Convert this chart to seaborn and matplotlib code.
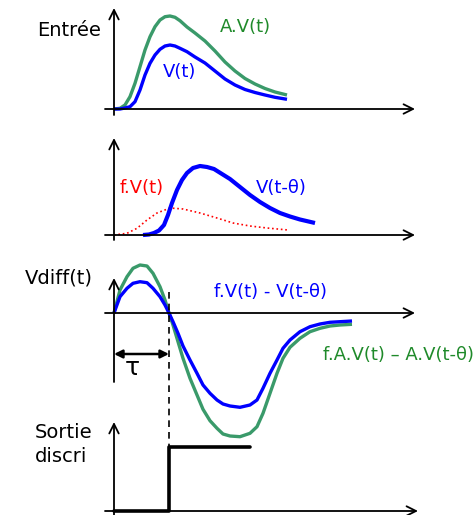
import matplotlib
matplotlib.use("Agg")
import matplotlib.pyplot as plt
import seaborn as sns

# ---------------- data ----------------
# Panel 1 : Entrée
t_in = [0, 6, 11, 16, 21, 26, 31, 36, 41, 46, 51, 56, 61, 66, 73, 81, 91, 101, 111, 121, 131, 141, 151, 161, 173]
v_in = [0, 0, 1, 2.3, 7.3, 19, 34, 45.7, 54, 59.7, 63, 64, 63, 60.7, 57.3, 52, 46, 38, 30, 24, 19.5, 16.5, 14, 11.7, 9.7]
av_in = [0, 0.7, 4, 12.3, 25.7, 42.3, 59, 72.3, 82.3, 89, 92.3, 93, 91.7, 88.3, 82, 76, 68, 58, 47, 38, 30.5, 25,
         20.5, 17, 14]

# Panel 2 : delayed and attenuated
t_del = [29, 35, 40, 45, 50, 54, 58, 63, 68, 73, 79, 86, 93, 100, 108, 116, 126, 136, 146, 156, 166, 176, 186, 201]
v_del = [0, 0.5, 2, 4.5, 10, 20, 32, 45, 55, 62, 67, 69, 68, 66, 61, 56, 48, 40, 33, 27, 22, 18.5, 15.5, 12]
t_att = [0, 13, 23, 33, 43, 56, 69, 86, 103, 119, 136, 153, 174]
v_att = [0, 1.7, 6.7, 15, 22, 27, 26, 22, 17, 12, 9, 7, 5]

# Panel 3 : Vdiff
t_diff = [0, 6, 13, 19, 26, 33, 39, 46, 51, 55, 59, 64, 69, 76, 83, 89, 96, 103, 109, 116, 126, 136, 143, 149,
          156, 163, 169, 176, 186, 196, 206, 216, 226, 238]
v_diff = [0, 16.3, 24.7, 29.7, 31.3, 30.3, 24.7, 16.3, 8, 0, -8.7, -20.3, -33, -47, -60.3, -72, -80.3, -87, -91,
          -93, -94.3, -92, -87, -75.3, -60.3, -47, -35.3, -27, -18.7, -13.7, -11, -9.3, -8.7, -8]
av_diff = [0, 23, 36.3, 44.7, 48, 47, 39.7, 26.3, 13, 0, -12, -28.7, -45.3, -65.3, -82, -96.3, -107.7, -115.3,
           -121, -123, -123.7, -120.3, -113.7, -100.3, -80.3, -60.3, -45.3, -34.3, -25.3, -18.7, -15.3, -13, -12,
           -11.3]
tau = 55

# Panel 4 : Sortie discri
t_out = [0, 55, 136]
v_out = [0, 64, 64]

# ---------------- style ----------------
sns.set_theme(style="white")
plt.rcParams['font.family'] = ['DejaVu Sans']

GREEN = "#3a9a6a"
GREEN_TXT = "#1f8a2a"
BLUE = "#0000ff"
RED = "#ff0000"
LINE_KW = dict(solid_joinstyle="round", solid_capstyle="butt", sort=False)

W, H = 475, 515
fig = plt.figure(figsize=(W / 100, H / 100), dpi=100)
fig.patch.set_facecolor("white")

X0 = 114  # pixel x of the vertical axes


def panel(yb):
    ax = fig.add_axes([0, 0, 1, 1])
    ax.set_xlim(-X0, W - X0)
    ax.set_ylim(-(H - yb), yb)
    ax.axis("off")
    ax.patch.set_alpha(0)
    return ax


def axes_arrows(ax, top, bottom, xend):
    ap = dict(arrowstyle="->", lw=1.3, color="black", mutation_scale=17, shrinkA=0, shrinkB=0)
    ax.annotate("", xy=(0, top), xytext=(0, bottom), arrowprops=ap)
    ax.annotate("", xy=(xend, 0), xytext=(-9, 0), arrowprops=ap)


# Panel 1
ax1 = panel(109)
axes_arrows(ax1, 101, -6, 301)
sns.lineplot(x=t_in, y=av_in, ax=ax1, color=GREEN, lw=2.4, **LINE_KW)
sns.lineplot(x=t_in, y=v_in, ax=ax1, color=BLUE, lw=2.4, **LINE_KW)
ax1.text(-45, 79, "Entrée", fontsize=14, ha="center", va="center", color="black")
ax1.text(131, 82, "A.V(t)", fontsize=13, ha="center", va="center", color=GREEN_TXT)
ax1.text(66, 37, "V(t)", fontsize=13, ha="center", va="center", color=BLUE)

# Panel 2
ax2 = panel(235)
axes_arrows(ax2, 97, -5, 301)
sns.lineplot(x=t_att, y=v_att, ax=ax2, color=RED, lw=1.2, linestyle=":", sort=False)
sns.lineplot(x=t_del, y=v_del, ax=ax2, color=BLUE, lw=3.0, **LINE_KW)
ax2.text(28, 47, "f.V(t)", fontsize=13, ha="center", va="center", color=RED)
ax2.text(167, 47, "V(t-θ)", fontsize=13, ha="center", va="center", color=BLUE)

# Panel 3
ax3 = panel(313)
axes_arrows(ax3, 35, -69, 301)
sns.lineplot(x=t_diff, y=av_diff, ax=ax3, color=GREEN, lw=2.4, **LINE_KW)
sns.lineplot(x=t_diff, y=v_diff, ax=ax3, color=BLUE, lw=2.4, **LINE_KW)
ax3.plot([tau, tau], [21, -134], color="black", lw=1.2, linestyle=(0, (4, 3)))
ax3.annotate("", xy=(tau, -41), xytext=(0, -41),
             arrowprops=dict(arrowstyle="<|-|>", lw=1.8, color="black", mutation_scale=12,
                             shrinkA=0, shrinkB=0))
ax3.text(18, -55, "τ", fontsize=18, ha="center", va="center", color="black")
ax3.text(-55, 35, "Vdiff(t)", fontsize=14, ha="center", va="center", color="black")
ax3.text(156, 21, "f.V(t) - V(t-θ)", fontsize=13, ha="center", va="center", color=BLUE)
ax3.text(360, -42, "f.A.V(t) – A.V(t-θ)", fontsize=13, ha="right", va="center", color=GREEN_TXT)

# Panel 4
ax4 = panel(511)
axes_arrows(ax4, 89, -6, 304)
sns.lineplot(x=t_out, y=v_out, ax=ax4, color="black", lw=2.6, drawstyle="steps-post", sort=False)
ax4.text(-79, 79, "Sortie", fontsize=14, ha="left", va="center", color="black")
ax4.text(-79, 54, "discri", fontsize=14, ha="left", va="center", color="black")

for a in fig.axes:
    leg = a.get_legend()
    if leg is not None:
        leg.remove()

fig.savefig("out.png", dpi=100, facecolor="white")
